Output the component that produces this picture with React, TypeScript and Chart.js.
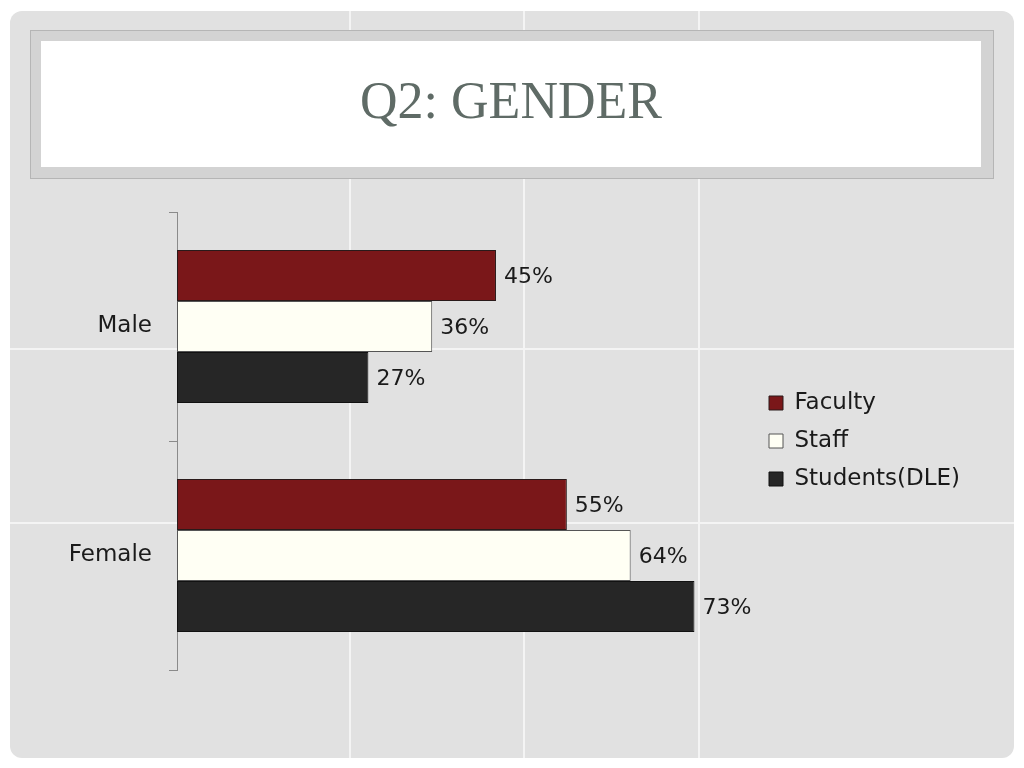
import React, { useEffect, useRef } from "react";
import { Chart, registerables } from "chart.js";

Chart.register(...registerables);

const categories = ["Male", "Female"];
const seriesNames = ["Faculty", "Staff", "Students(DLE)"];
const facultyValues = [45, 55];
const staffValues = [36, 64];
const studentValues = [27, 73];

const FONT = "'DejaVu Sans', sans-serif";

const valueLabels = {
  id: "valueLabels",
  afterDatasetsDraw(chart: any) {
    const ctx = chart.ctx;
    ctx.save();
    ctx.font = `22px ${FONT}`;
    ctx.fillStyle = "#1a1a1a";
    ctx.textAlign = "left";
    ctx.textBaseline = "middle";
    chart.data.datasets.forEach((ds: any, i: number) => {
      const meta = chart.getDatasetMeta(i);
      meta.data.forEach((el: any, j: number) => {
        ctx.fillText(`${ds.data[j]}%`, el.x + 8, el.y + 2);
      });
    });
    ctx.restore();
  },
};

export default function App() {
  const ref = useRef<HTMLCanvasElement>(null);

  useEffect(() => {
    if (!ref.current) return;
    const m = document.createElement("canvas").getContext("2d")!;
    m.font = `23px ${FONT}`;
    const widest = Math.max(...seriesNames.map((s) => m.measureText(s).width));
    const colWidth = 14 + 23 / 2 + widest;
    const padRight = Math.max(0, 1024 - 10 - colWidth - 769);

    const chart = new Chart(ref.current, {
      type: "bar",
      data: {
        labels: categories,
        datasets: [
          {
            label: seriesNames[0],
            data: facultyValues,
            backgroundColor: "#7a1719",
            borderColor: "#2a1a1a",
            borderWidth: 1,
            borderSkipped: false,
          },
          {
            label: seriesNames[1],
            data: staffValues,
            backgroundColor: "#fffff4",
            borderColor: "#555555",
            borderWidth: 1,
            borderSkipped: false,
          },
          {
            label: seriesNames[2],
            data: studentValues,
            backgroundColor: "#262626",
            borderColor: "#111111",
            borderWidth: 1,
            borderSkipped: false,
          },
        ],
      },
      options: {
        indexAxis: "y",
        animation: false,
        responsive: false,
        maintainAspectRatio: false,
        datasets: { bar: { categoryPercentage: 0.668, barPercentage: 1 } },
        layout: { padding: { left: 0, top: 212, bottom: 98, right: padRight } },
        plugins: {
          tooltip: { enabled: false },
          title: { display: false },
          legend: {
            display: true,
            position: "right",
            align: "center",
            labels: {
              boxWidth: 14,
              boxHeight: 14,
              padding: 15,
              color: "#1a1a1a",
              font: { family: FONT, size: 23 },
            },
          },
        },
        scales: {
          x: { display: false, min: 0, max: 81.4 },
          y: {
            afterFit: (s: any) => {
              s.width = 177;
            },
            grid: {
              display: true,
              drawOnChartArea: false,
              drawTicks: true,
              tickLength: 8,
              color: "#8a8a8a",
              offset: true,
            },
            border: { display: true, color: "#8a8a8a", width: 1 },
            ticks: {
              color: "#1a1a1a",
              padding: 17,
              font: { family: FONT, size: 23 },
            },
          },
        },
      },
      plugins: [valueLabels],
    });
    return () => chart.destroy();
  }, []);

  const vLines = [350, 524, 699];
  const hLines = [349, 523];

  return (
    <div
      style={{
        position: "absolute",
        left: 0,
        top: 0,
        width: 1024,
        height: 768,
        background: "#ffffff",
        overflow: "hidden",
      }}
    >
      <div
        style={{
          position: "absolute",
          left: 10,
          top: 11,
          width: 1004,
          height: 747,
          background: "#e1e1e1",
          borderRadius: 12,
          overflow: "hidden",
        }}
      >
        {vLines.map((x) => (
          <div
            key={"v" + x}
            style={{ position: "absolute", left: x - 10 - 1, top: 0, width: 2, height: 747, background: "#f4f4f4" }}
          />
        ))}
        {hLines.map((y) => (
          <div
            key={"h" + y}
            style={{ position: "absolute", left: 0, top: y - 11 - 1, width: 1004, height: 2, background: "#f4f4f4" }}
          />
        ))}
      </div>
      <div
        style={{
          position: "absolute",
          left: 30,
          top: 30,
          width: 962,
          height: 147,
          background: "#d3d3d3",
          border: "1px solid #b5b5b5",
        }}
      />
      <div
        style={{
          position: "absolute",
          left: 41,
          top: 41,
          width: 940,
          height: 126,
          background: "#ffffff",
          display: "flex",
          alignItems: "center",
          justifyContent: "center",
        }}
      >
        <span
          style={{
            fontFamily: "'Liberation Serif', serif",
            fontSize: 52,
            color: "#5f6b66",
            lineHeight: 1,
            marginLeft: 0,
            marginTop: -6,
          }}
        >
          Q2: GENDER
        </span>
      </div>
      <canvas
        ref={ref}
        width={1024}
        height={768}
        style={{ position: "absolute", left: 0, top: 0, width: 1024, height: 768 }}
      />
    </div>
  );
}
